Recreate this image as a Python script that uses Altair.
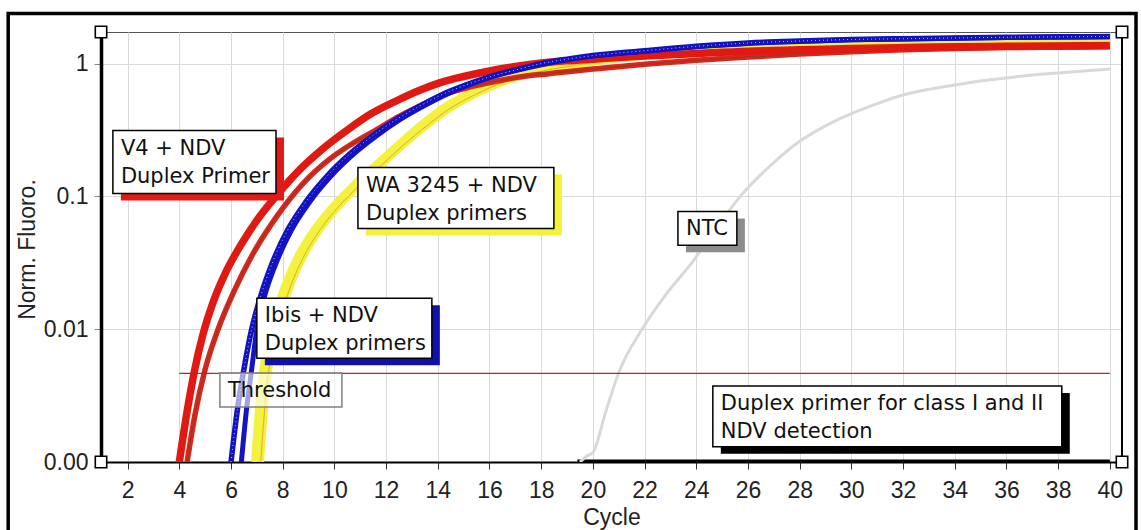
import altair as alt
import pandas as pd

# ---------------- data ----------------
red1_cycle = [4.0, 4.3, 4.6, 4.9, 5.3, 5.8, 6.4, 7.0, 7.6, 8.5, 9.5, 10.5, 11.4, 12.4, 13.3, 14.1, 15, 16, 17, 18,
              19, 20, 22, 24, 26, 28, 30, 32, 34, 36, 38, 40]
red1_fluoro = [0.001, 0.0024, 0.005, 0.0089, 0.0158, 0.0269, 0.0437, 0.066, 0.093, 0.148, 0.224, 0.316, 0.417,
               0.525, 0.63, 0.72, 0.8, 0.88, 0.95, 1.01, 1.05, 1.08, 1.14, 1.19, 1.24, 1.27, 1.30, 1.32, 1.34,
               1.35, 1.36, 1.37]

red2_cycle = [4.3, 4.6, 5.0, 5.5, 6.1, 6.85, 7.8, 8.8, 9.8, 10.7, 11.6, 12.5, 13.4, 14.3, 15.3, 16.3, 17.3, 18.3,
              19, 20, 22, 24, 26, 28, 30, 32, 34, 36, 38, 40]
red2_fluoro = [0.001, 0.00224, 0.005, 0.01, 0.019, 0.037, 0.072, 0.126, 0.19, 0.25, 0.316, 0.4, 0.49, 0.59, 0.67,
               0.74, 0.8, 0.84, 0.87, 0.91, 0.99, 1.06, 1.12, 1.18, 1.23, 1.27, 1.3, 1.32, 1.33, 1.34]

blue1_cycle = [6.0, 6.25, 6.5, 6.8, 7.15, 7.6, 8.2, 8.9, 9.7, 10.6, 11.5, 12.4, 13.3, 14.2, 15.1, 16, 17, 18, 19,
               20, 22, 24, 26, 28, 30, 32, 34, 36, 38, 40]
blue1_fluoro = [0.001, 0.0025, 0.005, 0.01, 0.0178, 0.0316, 0.0562, 0.0912, 0.141, 0.209, 0.288, 0.38, 0.479,
                0.589, 0.692, 0.794, 0.895, 1.0, 1.08, 1.15, 1.25, 1.35, 1.43, 1.48, 1.52, 1.54, 1.56, 1.58,
                1.59, 1.60]

blue2_cycle = [6.4, 6.6, 6.8, 7.0, 7.3, 7.75, 8.35, 9.05, 9.85, 10.75, 11.65, 12.55, 13.45, 14.35, 15.2, 16.1,
               17.1, 18.1, 19, 20, 22, 24, 26, 28, 30, 32, 34, 36, 38, 40]
blue2_fluoro = [0.001, 0.0025, 0.005, 0.01, 0.0178, 0.0316, 0.0562, 0.0912, 0.141, 0.209, 0.288, 0.38, 0.479,
                0.589, 0.692, 0.794, 0.895, 0.99, 1.07, 1.14, 1.24, 1.34, 1.42, 1.47, 1.51, 1.53, 1.55, 1.57,
                1.58, 1.59]

yellow1_cycle = [6.9, 7.1, 7.3, 7.6, 8.05, 8.6, 9.2, 9.9, 10.7, 11.6, 12.5, 13.4, 14.2, 15.2, 16.1, 17, 18, 19,
                 20, 22, 24, 26, 28, 30, 32, 34, 36, 38, 40]
yellow1_fluoro = [0.001, 0.00316, 0.0063, 0.0112, 0.0209, 0.0363, 0.0562, 0.0832, 0.12, 0.174, 0.251, 0.355,
                  0.468, 0.603, 0.724, 0.832, 0.923, 1.0, 1.06, 1.16, 1.24, 1.31, 1.35, 1.38, 1.41, 1.43, 1.44,
                  1.45, 1.46]

yellow2_cycle = [7.15, 7.35, 7.55, 7.85, 8.3, 8.85, 9.45, 10.15, 10.95, 11.85, 12.75, 13.65, 14.45, 15.45, 16.35,
                 17.3, 18.3, 19.3, 20.3, 22, 24, 26, 28, 30, 32, 34, 36, 38, 40]
yellow2_fluoro = [0.001, 0.00316, 0.0063, 0.0112, 0.0209, 0.0363, 0.0562, 0.0832, 0.12, 0.174, 0.251, 0.35,
                  0.455, 0.585, 0.7, 0.81, 0.9, 0.97, 1.04, 1.13, 1.21, 1.28, 1.33, 1.36, 1.39, 1.41, 1.42,
                  1.43, 1.44]

ntc_cycle = [19.5, 19.8, 20.0, 20.5, 21.0, 21.9, 22.8, 23.9, 24.7, 25.7, 27, 28, 29, 30, 31, 32, 33, 34, 35, 36,
             37, 38, 39, 40]
ntc_fluoro = [0.001, 0.00112, 0.00118, 0.0024, 0.0047, 0.01, 0.018, 0.033, 0.055, 0.1, 0.18, 0.26, 0.34, 0.42,
              0.5, 0.58, 0.64, 0.69, 0.74, 0.78, 0.82, 0.85, 0.88, 0.91]

flat_cycle = [19.4, 40]
flat_fluoro = [0.001, 0.001]

threshold_value = 0.00465
threshold_from = 4
threshold_to = 40

x_ticks = list(range(2, 41, 2))
y_ticks = [0.001, 0.01, 0.1, 1]
x_domain = [0.97, 40.47]
y_domain = [0.001, 1.73]

ann_text = ["V4 + NDV\nDuplex Primer", "WA 3245 + NDV\nDuplex primers", "Ibis + NDV\nDuplex primers",
            "Threshold", "NTC", "Duplex primer for class I and II\nNDV detection"]
ann_x1 = [1.43, 10.91, 7.0, 5.57, 23.29, 24.64]
ann_x2 = [7.74, 18.49, 13.77, 10.29, 25.57, 38.14]
ann_ytop = [0.313, 0.165, 0.0171, 0.00467, 0.0771, 0.00373]
ann_ybot = [0.105, 0.0574, 0.00605, 0.00259, 0.0428, 0.0013]
ann_shadow = ["#e31a14", "#f3f13c", "#1010b0", "none", "#8c8c8c", "#000000"]
ann_border = ["#000000", "#000000", "#000000", "#808080", "#000000", "#000000"]
ann_fillop = [1, 1, 1, 0.6, 1, 1]

# ---------------- chart ----------------
AXIS_FONT = "Liberation Sans"
ANN_FONT = "DejaVu Sans"

x_enc = alt.X("cycle:Q", scale=alt.Scale(domain=x_domain, nice=False, zero=False),
              axis=alt.Axis(values=x_ticks, title="Cycle", grid=True, gridColor="#dadada", gridWidth=1,
                            domainColor="#000000", domainWidth=2, tickColor="#333333", tickSize=7,
                            labelFont=AXIS_FONT, labelFontSize=23, labelColor="#222222", labelPadding=10,
                            labelFlush=False, labelOverlap=False,
                            titleFont=AXIS_FONT, titleFontSize=23, titleFontWeight="normal",
                            titleColor="#222222", titleY=55, titleBaseline="middle"))
y_enc = alt.Y("fluoro:Q", scale=alt.Scale(type="log", domain=y_domain, nice=False),
              axis=alt.Axis(values=y_ticks,
                            labelExpr="datum.value < 0.005 ? '0.00' : format(datum.value, '~g')",
                            title="Norm. Fluoro.", grid=True, gridColor="#dadada", gridWidth=1,
                            domainColor="#000000", domainWidth=3.5, tickColor="#888888", tickSize=7,
                            labelFont=AXIS_FONT, labelFontSize=23, labelColor="#222222", labelPadding=6,
                            labelOverlap=False,
                            titleFont=AXIS_FONT, titleFontSize=23, titleFontWeight="normal",
                            titleColor="#222222", titleX=-74, titleY=217, titleAngle=270,
                            titleAlign="center", titleBaseline="middle"))


def series(c, f):
    return pd.DataFrame({"cycle": c, "fluoro": f})


def line(c, f, color, width, **kw):
    return alt.Chart(series(c, f)).mark_line(color=color, strokeWidth=width, clip=True,
                                             interpolate="monotone", strokeJoin="round", **kw).encode(
        x=x_enc, y=y_enc)


layers = [
    line(flat_cycle, flat_fluoro, "#000000", 5),
    line(ntc_cycle, ntc_fluoro, "#d9d9d9", 3),
    line(yellow2_cycle, yellow2_fluoro, "#f2f03a", 6.5),
    line(yellow1_cycle, yellow1_fluoro, "#f4f23e", 6.5),
    line(yellow2_cycle, yellow2_fluoro, "#e0b030", 1),
    line(red2_cycle, red2_fluoro, "#e3221a", 5.5),
    line(red2_cycle, red2_fluoro, "#9c3a22", 1.6),
    line(red1_cycle, red1_fluoro, "#e01a12", 7.5),
    line(blue2_cycle, blue2_fluoro, "#1414c4", 5),
    line(blue1_cycle, blue1_fluoro, "#1212c0", 5.5),
    line(blue1_cycle, blue1_fluoro, "#b8b8ff", 1, strokeDash=[1, 3]),
]

thr = pd.DataFrame({"cycle": [threshold_from], "cycle2": [threshold_to], "fluoro": [threshold_value]})
layers.append(alt.Chart(thr).mark_rule(color="#b02a2a", strokeWidth=1.4).encode(
    x=x_enc, x2="cycle2:Q", y=y_enc))

# right edge of the plot area
edge = pd.DataFrame({"cycle": [x_domain[1]], "fluoro": [y_domain[0]], "fluoro2": [y_domain[1]]})
layers.append(alt.Chart(edge).mark_rule(color="#000000", strokeWidth=2).encode(
    x=x_enc, y=y_enc, y2="fluoro2:Q"))

ann = pd.DataFrame({"text": ann_text, "cycle": ann_x1, "cycle2": ann_x2, "fluoro": ann_ytop,
                    "fluoro2": ann_ybot, "shadow": ann_shadow, "border": ann_border, "fop": ann_fillop})
ann_sh = ann[ann["shadow"] != "none"]
layers.append(alt.Chart(ann_sh).mark_rect(xOffset=8, x2Offset=8, yOffset=7, y2Offset=7).encode(
    x=x_enc, x2="cycle2:Q", y=y_enc, y2="fluoro2:Q",
    fill=alt.Fill("shadow:N", scale=None)))
layers.append(alt.Chart(ann).mark_rect(fill="#ffffff", strokeWidth=1.5).encode(
    x=x_enc, x2="cycle2:Q", y=y_enc, y2="fluoro2:Q",
    stroke=alt.Stroke("border:N", scale=None),
    fillOpacity=alt.FillOpacity("fop:Q", scale=None)))
layers.append(alt.Chart(ann).mark_text(align="left", baseline="top", dx=8, dy=7, font=ANN_FONT,
                                       fontSize=21, lineHeight=28, lineBreak="\n", color="#111111").encode(
    x=x_enc, y=y_enc, text="text:N"))

# corner handles
corners = pd.DataFrame({"cycle": [x_domain[0], x_domain[0], x_domain[1], x_domain[1]],
                        "fluoro": [y_domain[0], y_domain[1], y_domain[0], y_domain[1]]})
layers.append(alt.Chart(corners).mark_square(size=130, filled=True, fill="#ffffff", stroke="#000000",
                                             strokeWidth=1.6, opacity=1).encode(x=x_enc, y=y_enc))

# outer frame
frame = pd.DataFrame({"k": [0]})
layers.append(alt.Chart(frame).mark_rect(fillOpacity=0, stroke="#000000", strokeWidth=3.5).encode(
    x=alt.value(-92.8), x2=alt.value(1035), y=alt.value(-18.5), y2=alt.value(506)))

chart = alt.layer(*layers).properties(
    width=1021, height=430,
    autosize=alt.AutoSizeParams(type="none"),
    padding={"left": 101, "top": 32, "right": 19, "bottom": 68},
    background="#ffffff",
).configure_view(stroke="#555555", strokeWidth=1)

chart.save("out.html", embed_options={"renderer": "svg", "actions": False})
